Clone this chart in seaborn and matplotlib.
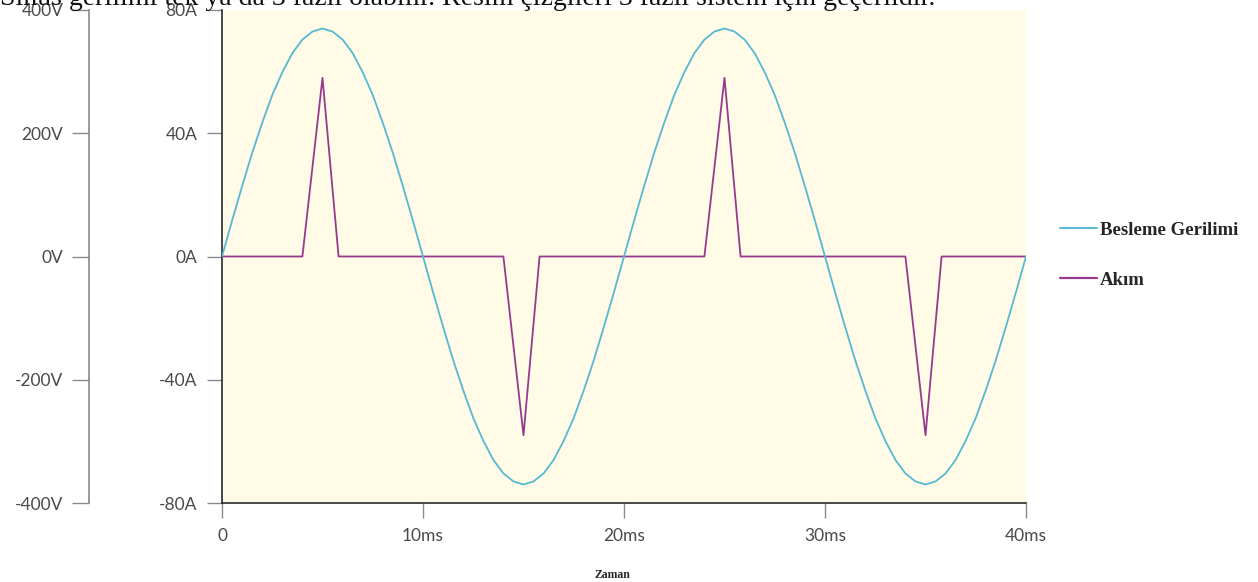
import numpy as np
import pandas as pd
import matplotlib
matplotlib.use("Agg")
import matplotlib.pyplot as plt
import seaborn as sns
from matplotlib.lines import Line2D

# ---- data ----
volt_time_ms = [i * 0.5 for i in range(81)]
volt_values = [
    0, 58, 114, 168, 217, 262, 299, 330, 352, 365,
    370, 365, 352, 330, 299, 262, 217, 168, 114, 58,
    0, -58, -114, -168, -217, -262, -299, -330, -352, -365,
    -370, -365, -352, -330, -299, -262, -217, -168, -114, -58,
    0, 58, 114, 168, 217, 262, 299, 330, 352, 365,
    370, 365, 352, 330, 299, 262, 217, 168, 114, 58,
    0, -58, -114, -168, -217, -262, -299, -330, -352, -365,
    -370, -365, -352, -330, -299, -262, -217, -168, -114, -58,
    0,
]
curr_time_ms = [0, 4.0, 5.0, 5.8, 14.0, 15.0, 15.8, 24.0, 25.0, 25.8, 34.0, 35.0, 35.8, 40]
curr_values = [0, 0, 58, 0, 0, -58, 0, 0, 58, 0, 0, -58, 0, 0]

x_ticks = [0, 10, 20, 30, 40]
x_labels = ["0", "10ms", "20ms", "30ms", "40ms"]
a_ticks = [-80, -40, 0, 40, 80]
a_labels = ["-80A", "-40A", "0A", "40A", "80A"]
v_ticks = [-400, -200, 0, 200, 400]
v_labels = ["-400V", "-200V", "0V", "200V", "400V"]

series_names = ["Besleme Gerilimi", "Akım"]
title_text = "Sinüs gerilimi tek ya da 3 fazlı olabilir. Resim çizgileri 3 fazlı sistem için geçerlidir."
xlabel_text = "Zaman"

volt_df = pd.DataFrame({"t": volt_time_ms, "v": volt_values})
curr_df = pd.DataFrame({"t": curr_time_ms, "i": curr_values})

# ---- style ----
sns.set_style("white")
plt.rcParams["font.family"] = ["Lato", "DejaVu Sans"]

W, H = 1258, 582
fig = plt.figure(figsize=(W / 100, H / 100), dpi=100)
L, R, T, B = 222, 1026, 10, 503
ax = fig.add_axes([L / W, (H - B) / H, (R - L) / W, (B - T) / H])
ax.set_facecolor("#FFFBE6")

volt_color = "#56B9D2"
curr_color = "#953A8E"
tick_gray = "#8A8A8A"
label_gray = "#4A4A4A"

sns.lineplot(data=curr_df, x="t", y="i", ax=ax, color=curr_color, lw=1.3,
             estimator=None, sort=False, zorder=3)
ax.set_xlim(0, 40)
ax.set_ylim(-80, 80)

ax2 = ax.twinx()
sns.lineplot(data=volt_df, x="t", y="v", ax=ax2, color=volt_color, lw=1.3,
             estimator=None, sort=False, zorder=2)
ax2.set_ylim(-400, 400)
ax2.set_xlim(0, 40)

# current axis
for s in ["top", "right"]:
    ax.spines[s].set_visible(False)
ax.spines["left"].set_color("#2A2A2A")
ax.spines["bottom"].set_color("#2A2A2A")
ax.spines["left"].set_linewidth(1.2)
ax.spines["bottom"].set_linewidth(1.2)
ax.set_yticks(a_ticks)
ax.set_yticklabels(a_labels)
ax.set_xticks(x_ticks)
ax.set_xticklabels(x_labels)
ax.tick_params(axis="y", direction="out", length=10.8, width=1, color=tick_gray,
               pad=7, labelsize=12.5, labelcolor=label_gray, left=True)
ax.tick_params(axis="x", direction="out", length=10.8, width=1, color=tick_gray,
               pad=7, labelsize=12.5, labelcolor=label_gray, bottom=True)
ax.set_xlabel("")
ax.set_ylabel("")

# voltage axis (outer left)
ax2.spines["right"].set_visible(False)
ax2.spines["top"].set_visible(False)
ax2.spines["bottom"].set_visible(False)
ax2.spines["left"].set_visible(True)
ax2.spines["left"].set_position(("outward", 133 * 72 / 100))
ax2.spines["left"].set_color(tick_gray)
ax2.spines["left"].set_linewidth(1.2)
ax2.yaxis.set_ticks_position("left")
ax2.yaxis.set_label_position("left")
ax2.set_yticks(v_ticks)
ax2.set_yticklabels(v_labels)
ax2.tick_params(axis="y", direction="out", length=12, width=1, color=tick_gray,
                pad=6.5, labelsize=12.5, labelcolor=label_gray, left=True, right=False)
ax2.set_ylabel("")
ax2.set_xlabel("")

# x label
fig.text(612 / W, 1 - 575 / H, xlabel_text, ha="center", va="center",
         fontsize=8.5, fontweight="bold", family=["Liberation Serif", "DejaVu Serif"])

# cut-off caption at the top
fig.text(0.0, 1 - 5 / H, title_text, ha="left", va="baseline",
         fontsize=20, family=["Liberation Serif", "DejaVu Serif"], color="#111111")

# legend
handles = [Line2D([0], [0], color=volt_color, lw=1.4),
           Line2D([0], [0], color=curr_color, lw=1.6)]
leg = fig.legend(handles, series_names, loc="upper left",
                 bbox_to_anchor=(1043 / W, 1 - 205 / H), frameon=False,
                 handlelength=2.0, handletextpad=0.15, labelspacing=1.75,
                 prop={"family": "Liberation Serif", "weight": "bold", "size": 13.5})

fig.savefig("out.png", dpi=100)
